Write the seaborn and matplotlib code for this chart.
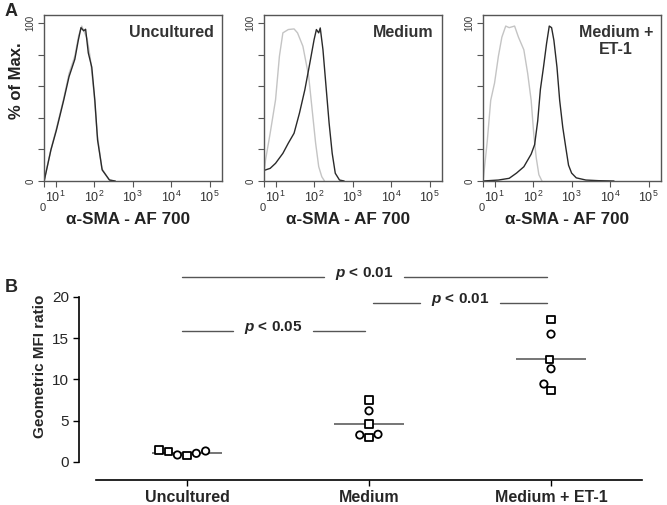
import numpy as np
import pandas as pd
import matplotlib
matplotlib.use("Agg")
import matplotlib.pyplot as plt
import seaborn as sns
from matplotlib.markers import MarkerStyle

sns.set_theme(style="ticks")
plt.rcParams['font.family'] = ['Liberation Sans', 'DejaVu Sans']
plt.rcParams['mathtext.fontset'] = 'custom'
plt.rcParams['mathtext.rm'] = 'Liberation Sans'
plt.rcParams['mathtext.it'] = 'Liberation Sans:italic:bold'
plt.rcParams['mathtext.bf'] = 'Liberation Sans:bold'

# ---- panel A: flow histograms, x in log10 fluorescence (decades), y in % of max
unc_gray_x = [0.71, 0.88, 1.02, 1.21, 1.35, 1.50, 1.60, 1.68, 1.75, 1.82, 1.90, 2.00, 2.08, 2.20, 2.38, 2.50]
unc_gray_y = [1, 20, 33, 52, 68, 79, 92, 98, 94, 90, 78, 55, 30, 8, 1, 0]
unc_black_x = [0.71, 0.88, 1.02, 1.21, 1.35, 1.50, 1.59, 1.66, 1.73, 1.78, 1.85, 1.94, 2.02, 2.09, 2.21, 2.40, 2.55]
unc_black_y = [0.6, 19.7, 32, 51, 66, 77, 89, 97, 95, 96, 81, 72, 51, 26, 7, 0.6, 0]

med_gray_x = [0.70, 0.74, 0.86, 1.00, 1.10, 1.19, 1.33, 1.48, 1.57, 1.71, 1.86, 1.95, 2.04, 2.12, 2.20, 2.27]
med_gray_y = [5, 13.3, 30.2, 51.4, 78.9, 93.7, 95.8, 96.2, 93.7, 85.2, 66.2, 45.0, 23.9, 9.1, 2.7, 0]
med_black_x = [0.69, 0.86, 1.00, 1.19, 1.33, 1.48, 1.62, 1.76, 1.89, 2.00, 2.06, 2.12, 2.16, 2.23, 2.31, 2.39, 2.47, 2.55, 2.66, 2.78]
med_black_y = [6.6, 8.0, 11.2, 17.5, 23.9, 30.2, 42.9, 57.7, 74.6, 89.4, 95.8, 93.7, 96.8, 83.1, 59.8, 36.6, 17.5, 4.9, 0.6, 0]

et1_gray_x = [0.71, 0.81, 0.90, 1.00, 1.10, 1.19, 1.29, 1.38, 1.52, 1.62, 1.76, 1.86, 1.95, 2.02, 2.08, 2.15, 2.23]
et1_gray_y = [1.7, 25, 51, 62, 79, 91, 98, 97, 98, 91, 83, 68, 51, 29, 15, 4, 0]
et1_black_x = [0.70, 1.10, 1.38, 1.57, 1.76, 1.95, 2.04, 2.12, 2.19, 2.27, 2.35, 2.42, 2.48, 2.54, 2.62,
               2.69, 2.77, 2.85, 2.92, 3.00, 3.12, 3.37, 3.70, 4.10]
et1_black_y = [0, 0.6, 1.7, 5, 9, 17, 23, 38, 58, 72, 87, 98, 97, 89, 72, 51, 34, 21, 10, 5, 2, 0.6, 0.2, 0]

hist_titles = ["Uncultured", "Medium", "Medium +\nET-1"]
decade_labels = ["", "$10^{1}$", "$10^{2}$", "$10^{3}$", "$10^{4}$", "$10^{5}$"]

# ---- panel B: geometric MFI ratio
groups = ["Uncultured", "Medium", "Medium + ET-1"]
unc_ratio = [1.25, 1.05, 0.76, 0.85, 1.45, 1.33]
med_ratio = [7.5, 6.2, 4.6, 3.35, 2.95, 3.27]
et1_ratio = [17.3, 15.5, 12.4, 11.3, 9.45, 8.7]
unc_exp = ["I", "II", "I", "II", "I", "II"]
med_exp = ["I", "II", "I", "II", "I", "II"]
et1_exp = ["I", "II", "I", "II", "II", "I"]

fig = plt.figure(figsize=(6.67, 5.05), dpi=100)
W, H = 667, 505

def px_axes(l, t, r, b):
    return fig.add_axes([l / W, 1 - b / H, (r - l) / W, (b - t) / H])

hist_data = [(unc_gray_x, unc_gray_y, unc_black_x, unc_black_y),
             (med_gray_x, med_gray_y, med_black_x, med_black_y),
             (et1_gray_x, et1_gray_y, et1_black_x, et1_black_y)]
lefts = [44, 264, 483]
for left, title, (gx, gy, bx, by) in zip(lefts, hist_titles, hist_data):
    ax = px_axes(left, 15, left + 178, 181)
    sns.lineplot(x=gx, y=gy, ax=ax, color="#c4c4c4", lw=1, estimator=None)
    sns.lineplot(x=bx, y=by, ax=ax, color="#2a2a2a", lw=1, estimator=None)
    ax.set_xlim(0.7, 5.32)
    ax.set_ylim(0, 105)
    ax.tick_params(length=4, width=0.8, color="#555", pad=2)
    ax.set_xticks([0.7, 1, 2, 3, 4, 5])
    ax.set_xticklabels(decade_labels, fontsize=9, color="#333")
    ax.set_yticks([0, 20, 40, 60, 80, 100])
    ax.set_yticklabels(["0", "", "", "", "", "100"], fontsize=7, rotation=90, va="center", color="#333")
    for s in ax.spines.values():
        s.set_color("#555")
        s.set_linewidth(1)
    ax.text(0.655, -0.16, "0", transform=ax.get_xaxis_transform(), ha="center", va="center",
            fontsize=8, color="#333")
    ax.text(0.955, 0.94, title, transform=ax.transAxes, ha="right", va="top",
            multialignment="center", fontsize=11.5, fontweight="bold", color="#333",
            linespacing=1.2)
    ax.text(0.47, -0.229, "α-SMA - AF 700", transform=ax.transAxes, ha="center", va="center",
            fontsize=12.3, fontweight="bold", color="#222")
    ax.set_xlabel("")
    ax.set_ylabel("")

fig.text(17 / W, 1 - 81 / H, "% of Max.", rotation=90, ha="center", va="center",
         fontsize=12, fontweight="bold", color="#222")
fig.text(5 / W, 1 - 12 / H, "A", fontsize=13, fontweight="bold", va="center")
fig.text(5 / W, 1 - 287 / H, "B", fontsize=13, fontweight="bold", va="center")

# ---- panel B
df = pd.DataFrame({
    "condition": np.repeat(groups, 6),
    "ratio": unc_ratio + med_ratio + et1_ratio,
    "experiment": unc_exp + med_exp + et1_exp,
})
axb = px_axes(96, 267.3, 642, 466.1)
sns.swarmplot(data=df, x="condition", y="ratio", order=groups, ax=axb, size=5.3,
              color="white", edgecolor="black", linewidth=1.3, zorder=4)

marker_path = {}
for key, m in [("I", "s"), ("II", "o")]:
    ms = MarkerStyle(m)
    marker_path[key] = ms.get_path().transformed(ms.get_transform())
for coll in axb.collections:
    offs = coll.get_offsets()
    if len(offs) == 0:
        continue
    gi = int(round(np.mean(offs[:, 0])))
    sub = df[df.condition == groups[gi]]
    coll.set_paths([marker_path[e] for e in sub.experiment])

for i, g in enumerate(groups):
    m = df.loc[df.condition == g, "ratio"].mean()
    axb.hlines(m, i - 0.19, i + 0.19, color="#6a6a6a", lw=1.3, zorder=3)

# despine first: moving spines resets the tick labels
sns.despine(ax=axb, offset={"left": 12.2, "bottom": 10})
axb.set_xlim(-0.5, 2.5)
axb.set_ylim(-0.5, 23.6)
axb.tick_params(length=4, width=1, color="black", pad=3)
axb.set_yticks([0, 5, 10, 15, 20])
axb.set_yticklabels(["0", "5", "10", "15", "20"], fontsize=11)
axb.set_xticks([0, 1, 2])
axb.set_xticklabels(groups, fontsize=11.5, fontweight="bold")
axb.set_xlabel("")
axb.set_ylabel("Geometric MFI ratio", fontsize=11, fontweight="bold", labelpad=4)
axb.spines["left"].set_bounds(0, 20)
axb.spines["bottom"].set_bounds(-0.5, 2.5)
for s in ("left", "bottom"):
    axb.spines[s].set_linewidth(1.2)
    axb.spines[s].set_color("black")

def bracket(ax, x0, x1, y, label, gap=0.22):
    xc = (x0 + x1) / 2
    ax.plot([x0, xc - gap], [y, y], color="#555", lw=1, clip_on=False)
    ax.plot([xc + gap, x1], [y, y], color="#555", lw=1, clip_on=False)
    ax.text(xc, y, label, ha="center", va="baseline", fontsize=11, fontweight="bold", clip_on=False)

bracket(axb, -0.03, 1.98, 22.4, r"$p$ < 0.01")
bracket(axb, 1.02, 1.98, 19.3, r"$p$ < 0.01")
bracket(axb, -0.03, 0.98, 15.9, r"$p$ < 0.05")

fig.savefig("out.png", dpi=100)
